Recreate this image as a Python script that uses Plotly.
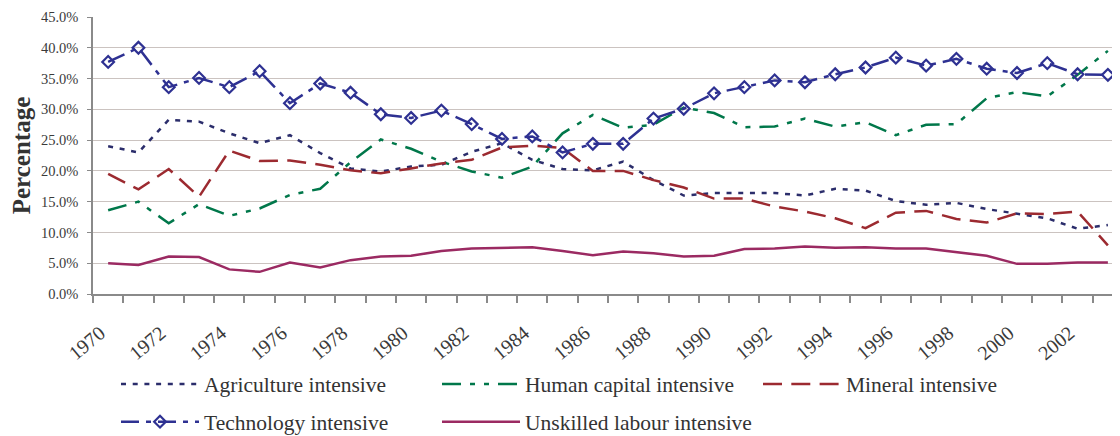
import plotly.graph_objects as go

years = list(range(1970, 2004))

agriculture = [24.0, 23.0, 28.3, 28.0, 26.1, 24.5, 25.8, 22.9, 20.4, 19.9,
               20.7, 21.0, 23.1, 24.5, 21.8, 20.3, 20.1, 21.5, 18.5, 16.0,
               16.4, 16.4, 16.4, 16.0, 17.1, 16.8, 15.1, 14.5, 14.8, 13.8,
               13.0, 12.3, 10.6, 11.2]
human_capital = [13.6, 15.0, 11.5, 14.6, 12.7, 13.9, 16.1, 17.1, 21.4, 25.1,
                 23.6, 21.5, 19.9, 18.9, 20.7, 26.1, 29.1, 27.0, 27.5, 30.3,
                 29.4, 27.1, 27.2, 28.5, 27.2, 27.9, 25.8, 27.5, 27.6, 31.8,
                 32.8, 32.1, 35.6, 39.5]
mineral = [19.5, 17.0, 20.3, 15.8, 23.3, 21.6, 21.7, 21.0, 20.1, 19.6,
           20.4, 21.2, 21.8, 23.8, 24.1, 23.7, 20.0, 20.0, 18.5, 17.3,
           15.5, 15.5, 14.2, 13.4, 12.3, 10.7, 13.2, 13.5, 12.2, 11.6,
           13.1, 13.0, 13.4, 7.9]
technology = [37.7, 40.0, 33.6, 35.1, 33.6, 36.2, 31.0, 34.2, 32.7, 29.2,
              28.6, 29.8, 27.6, 25.2, 25.6, 23.0, 24.4, 24.4, 28.5, 30.1,
              32.6, 33.6, 34.7, 34.4, 35.7, 36.8, 38.4, 37.1, 38.2, 36.6,
              35.9, 37.5, 35.7, 35.6]
unskilled = [5.0, 4.7, 6.1, 6.0, 4.0, 3.6, 5.1, 4.3, 5.5, 6.1,
             6.2, 7.0, 7.4, 7.5, 7.6, 7.0, 6.3, 6.9, 6.6, 6.1,
             6.2, 7.3, 7.4, 7.7, 7.5, 7.6, 7.4, 7.4, 6.8, 6.2,
             4.9, 4.9, 5.1, 5.1]

tick_years = years[::2]
tick_labels = [str(y) for y in tick_years]
boundaries = [y - 0.5 for y in years] + [years[-1] + 0.5]
y_ticks = [0, 5, 10, 15, 20, 25, 30, 35, 40, 45]
y_labels = [f"{v:.1f}%" for v in y_ticks]

FONT = "Liberation Serif, Times New Roman, serif"

fig = go.Figure()
fig.add_trace(go.Scatter(x=years, y=agriculture, mode="lines", name="Agriculture intensive",
                         legend="legend",
                         line=dict(color="#2b2d6b", width=2.5, dash="5px,6.7px")))
fig.add_trace(go.Scatter(x=years, y=human_capital, mode="lines", name="Human capital intensive",
                         legend="legend",
                         line=dict(color="#00774a", width=2.5, dash="19px,9px,5px,9px,5px,9px")))
fig.add_trace(go.Scatter(x=years, y=mineral, mode="lines", name="Mineral intensive",
                         legend="legend",
                         line=dict(color="#9c2a30", width=2.5, dash="19px,9.3px")))
fig.add_trace(go.Scatter(x=years, y=technology, mode="lines+markers", name="Technology intensive",
                         legend="legend2",
                         line=dict(color="#2e3192", width=2.5, dash="18px,7px,5px,7px"),
                         marker=dict(symbol="diamond-open", size=9, color="#2e3192",
                                     line=dict(width=2.2, color="#2e3192"))))
fig.add_trace(go.Scatter(x=years, y=unskilled, mode="lines", name="Unskilled labour intensive",
                         legend="legend2",
                         line=dict(color="#9b2a62", width=2.5)))

leg_common = dict(orientation="h", xanchor="left", yanchor="middle",
                  entrywidth=228, entrywidthmode="pixels", itemwidth=78,
                  font=dict(size=21.5, family=FONT, color="#333333"),
                  bgcolor="rgba(0,0,0,0)", borderwidth=0)

# page body has an 8px margin, so the figure is 1112x428 and offset accordingly
fig.update_layout(
    width=1112, height=428,
    margin=dict(l=85, r=0, t=9, b=142, autoexpand=False),
    paper_bgcolor="white", plot_bgcolor="white",
    font=dict(family=FONT, color="#3a3a3a"),
    showlegend=True,
    legend=dict(x=0.0224, y=-0.325, **leg_common),
    legend2=dict(x=0.0224, y=-0.461, **leg_common),
)
fig.update_xaxes(
    range=[1969.5, 2003.4], tickvals=tick_years, ticktext=tick_labels,
    tickangle=-40, ticks="", showgrid=False, zeroline=False, automargin=False,
    showline=True, linecolor="#8a8a8a", linewidth=1.5,
    tickfont=dict(size=20, family=FONT, color="#3a3a3a"),
    ticklabelstandoff=18, ticklabelshift=-8,
    minor=dict(tickmode="array", tickvals=boundaries, ticks="outside", ticklen=7,
               tickcolor="#8a8a8a", tickwidth=1.5, showgrid=False),
)
fig.update_yaxes(
    range=[0, 45], tickvals=y_ticks, ticktext=y_labels,
    ticks="outside", ticklen=4, tickcolor="#8a8a8a", automargin=False,
    showgrid=True, gridcolor="#cbc3c0", gridwidth=1.2, zeroline=False,
    showline=True, linecolor="#8a8a8a", linewidth=1.5,
    tickfont=dict(size=14.5, family=FONT, color="#3a3a3a"),
    ticklabelstandoff=6,
    title=dict(text="<b>Percentage</b>", font=dict(size=25, family=FONT, color="#333333"),
               standoff=8),
)

fig.write_html("out.html")
